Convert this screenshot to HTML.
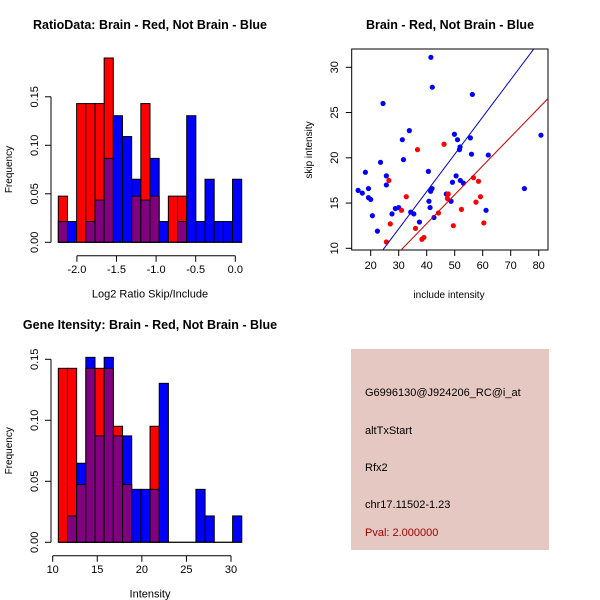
<!DOCTYPE html>
<html><head><meta charset="utf-8"><style>
body{margin:0;background:#fff}
svg{display:block;font-family:"Liberation Sans",sans-serif}
</style></head><body>
<svg id="s" width="600" height="600" xmlns="http://www.w3.org/2000/svg">
<rect x="351" y="349" width="198" height="201" fill="#e6c8c2"/>
<g font-size="11" fill="#000">
<text x="365" y="396">G6996130@J924206_RC@i_at</text>
<text x="365" y="434">altTxStart</text>
<text x="365" y="471">Rfx2</text>
<text x="365" y="508">chr17.11502-1.23</text>
<text x="365" y="536" fill="#a00000">Pval: 2.000000</text>
</g>
</svg>
<script>
// Ratio histogram data
const ratioRed=[0.0476,0,0.143,0.143,0.143,0.190,0,0,0.0476,0.143,0.0476,0,0.0476,0.0476,0,0,0,0,0,0];
const ratioBlue=[0.0214,0.0214,0,0.0214,0.0435,0.0865,0.1305,0.109,0.065,0.0435,0.0865,0.0214,0,0.0214,0.1305,0.0214,0.065,0.0214,0.0214,0.065];
const ratioStart=-2.235, ratioWidth=0.1158;
const ratioXTicks=[-2.0,-1.5,-1.0,-0.5,0.0];
const freqTicks=[0,0.05,0.10,0.15];
// Intensity histogram data
const intRed=[0.1426,0.1426,0.0473,0.1426,0.1426,0.1426,0.0951,0.0473,0,0,0.0951,0,0,0,0,0,0,0,0,0];
const intBlue=[0,0.0216,0.0648,0.1516,0.0872,0.1516,0.0872,0.0872,0.0434,0.0434,0.0434,0.1303,0,0,0,0.0434,0.0216,0,0,0.0216];
const intStart=10.63, intWidth=1.029;
const intXTicks=[10,15,20,25,30];
// Scatter data
const blueX=[41.5,42.0,56.3,24.4,33.8,31.3,49.9,51.0,55.6,51.9,51.7,56.0,62.0,31.7,23.5,80.8,18.1,25.6,25.6,40.6,50.5,49.2,52.0,53.1,15.5,17.0,19.2,19.2,20.0,41.9,41.4,74.9,47.0,48.7,40.8,41.2,28.8,30.0,27.6,34.3,35.4,20.6,42.6,37.4,61.2,22.4];
const blueY=[31.1,27.8,27.0,26.0,23.0,22.0,22.6,22.0,22.2,21.2,20.9,20.4,20.3,19.8,19.5,22.5,18.4,18.0,17.0,18.5,18.0,17.3,17.5,17.2,16.4,16.1,16.6,15.6,15.4,16.6,16.3,16.6,16.0,15.2,15.2,14.5,14.4,14.5,13.8,14.0,13.8,13.6,13.4,12.9,14.2,11.9];
const redX=[26.5,36.7,46.2,56.7,58.5,59.2,57.6,47.7,47.4,52.4,44.2,32.7,31.0,27.0,36.0,38.3,39.0,49.5,60.4,25.6];
const redY=[17.5,20.9,21.5,17.8,17.4,15.7,15.1,16.0,15.5,14.3,13.9,15.7,14.2,12.7,12.2,11.0,11.2,12.5,12.8,10.7];
const blueFit=[-0.21,0.412];
const redFit=[-0.03,0.319];
const scXTicks=[20,30,40,50,60,70,80];
const scYTicks=[10,15,20,25,30];

const S=document.getElementById('s');
const NS='http://www.w3.org/2000/svg';
function mk(tag,at,parent){const e=document.createElementNS(NS,tag);for(const k in at)e.setAttribute(k,at[k]);(parent||S).appendChild(e);return e;}
function txt(x,y,s,size,extra,name){const t=mk('text',Object.assign({x:x,y:y,'font-size':size,'text-anchor':'middle'},extra||{}));t.textContent=s;


return t;}
function fmt2(v){return v.toFixed(2);}

function hist(opts){
  const g=mk('g',{});
  
  
  const X=v=>opts.x0+(v-opts.v0)*opts.kx;
  const Y=v=>opts.y0-v*opts.ky;
  const n=opts.red.length;
  for(let i=0;i<n;i++){
    const a=X(opts.start+i*opts.width), b=X(opts.start+(i+1)*opts.width);
    const r=opts.red[i], bl=opts.blue[i], m=Math.min(r,bl), mx=Math.max(r,bl);
    if(mx>0){
      const col=r>bl?'#ff0000':'#0000ff';
      const e=mk('rect',{x:a,y:Y(mx),width:b-a,height:Y(0)-Y(mx),fill:col,stroke:'#000','stroke-width':1},g);
      
      
    }
    if(m>0){
      const e=mk('rect',{x:a,y:Y(m),width:b-a,height:Y(0)-Y(m),fill:'#800080',stroke:'#000','stroke-width':1},g);
      
      
    }
    if(mx===0){
      const e=mk('line',{x1:a,x2:b,y1:Y(0),y2:Y(0),stroke:'#000'},g);
      
      
    }
  }
  mk('line',{x1:X(opts.start),x2:X(opts.start+n*opts.width),y1:Y(0),y2:Y(0),stroke:'#000'},g);
  // x axis
  const xt=opts.xticks, xa=opts.y0+13.5;
  const ax=mk('line',{x1:X(xt[0]),x2:X(xt[xt.length-1]),y1:xa,y2:xa,stroke:'#000'},g);
  
  
  xt.forEach(v=>{mk('line',{x1:X(v),x2:X(v),y1:xa,y2:xa+6,stroke:'#000'},g);
    txt(X(v),xa+17,opts.xfmt(v),11,{},'x-tick-label');});
  // y axis
  const ya=51;
  const yax=mk('line',{x1:ya,x2:ya,y1:Y(freqTicks[0]),y2:Y(freqTicks[freqTicks.length-1]),stroke:'#000'},g);
  
  
  freqTicks.forEach(v=>{mk('line',{x1:ya-6,x2:ya,y1:Y(v),y2:Y(v),stroke:'#000'},g);
    txt(38,Y(v),fmt2(v),11,{transform:'rotate(-90 38 '+Y(v)+')'},'y-tick-label');});
  txt(12,(Y(0)+Y(0.15))/2,'Frequency',10,{transform:'rotate(-90 12 '+((Y(0)+Y(0.15))/2)+')'},'y-axis-title');
  txt(opts.xlabX,opts.y0+55,opts.xlab,11,{},'x-axis-title');
  txt(150,opts.titleY,opts.title,12.5,{'font-weight':'bold'},'chart-title');
}
hist({name:'ratio-histogram',red:ratioRed,blue:ratioBlue,start:ratioStart,width:ratioWidth,x0:235.3,v0:0,kx:79.2,y0:242.3,ky:48.5/0.05,
  xticks:ratioXTicks,xfmt:v=>v.toFixed(1),xlab:'Log2 Ratio Skip/Include',xlabX:150,title:'RatioData: Brain - Red, Not Brain - Blue',titleY:29});
hist({name:'intensity-histogram',red:intRed,blue:intBlue,start:intStart,width:intWidth,x0:52.7,v0:10,kx:8.915,y0:542.3,ky:61/0.05,
  xticks:intXTicks,xfmt:v=>String(v),xlab:'Intensity',xlabX:150,title:'Gene Itensity: Brain - Red, Not Brain - Blue',titleY:329});

// Scatter
(function(){
  const g=mk('g',{});
  
  
  const X=v=>370.7+(v-20)*2.8, Y=v=>248.3-(v-10)*9.05;
  const L=351.7,R=548,T=49,B=250;
  const clip=mk('clipPath',{id:'sc'},g);mk('rect',{x:L,y:T,width:R-L,height:B-T},clip);
  const box=mk('rect',{x:L,y:T,width:R-L,height:B-T,fill:'none',stroke:'#000'},g);
  
  
  blueX.forEach((v,i)=>{const c=mk('circle',{cx:X(v),cy:Y(blueY[i]),r:2.6,fill:'#0000ff'},g);
    
    });
  redX.forEach((v,i)=>{const c=mk('circle',{cx:X(v),cy:Y(redY[i]),r:2.6,fill:'#ff0000'},g);
    
    });
  [[blueFit,'#0000cc','fit-line-blue'],[redFit,'#cc0000','fit-line-red']].forEach(([f,c,n])=>{
    const l=mk('line',{x1:X(0),y1:Y(f[0]),x2:X(100),y2:Y(f[0]+f[1]*100),stroke:c,'stroke-width':1,'clip-path':'url(#sc)'},g);
    
    });
  scXTicks.forEach(v=>{mk('line',{x1:X(v),x2:X(v),y1:B,y2:B+6,stroke:'#000'},g);txt(X(v),B+19,String(v),11,{},'x-tick-label');});
  scYTicks.forEach(v=>{mk('line',{x1:L-6,x2:L,y1:Y(v),y2:Y(v),stroke:'#000'},g);
    txt(338,Y(v),String(v),11,{transform:'rotate(-90 338 '+Y(v)+')'},'y-tick-label');});
  txt(450,29,'Brain - Red, Not Brain - Blue',12.5,{'font-weight':'bold'},'scatter-title');
  txt(449,298,'include intensity',10,{},'x-axis-title');
  txt(312,150,'skip intensity',10,{transform:'rotate(-90 312 150)'},'y-axis-title');
})();
</script>
</body></html>
